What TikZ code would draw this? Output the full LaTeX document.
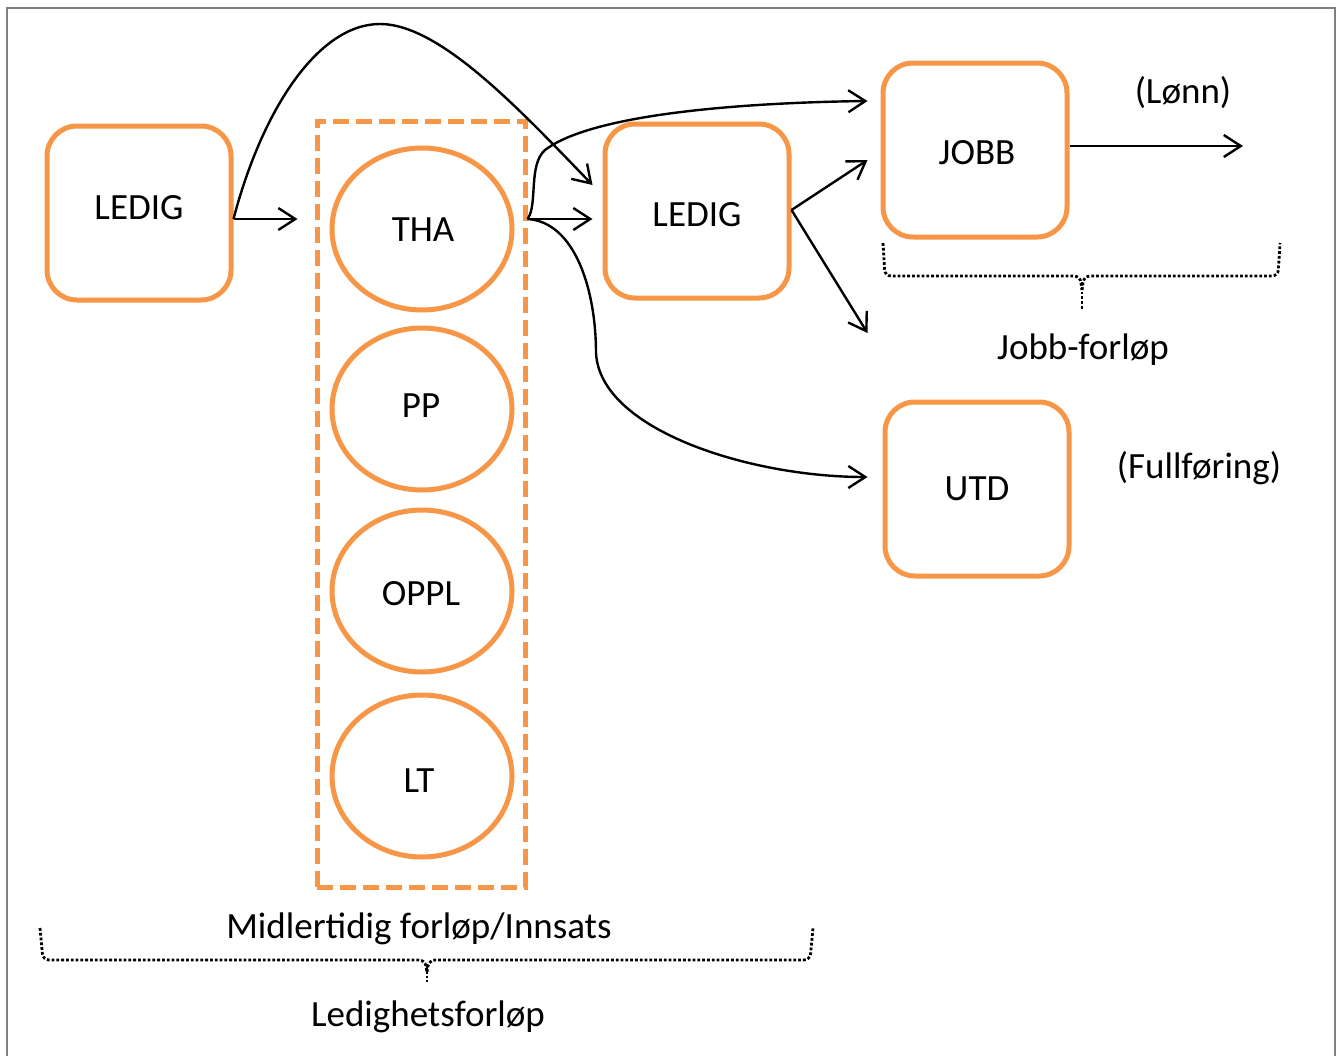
\documentclass[tikz,border=0pt]{standalone}
\usepackage{fontspec}
\setmainfont{Carlito}
\usetikzlibrary{arrows.meta,shapes.geometric,calc}
\definecolor{obox}{HTML}{F79646}
\begin{document}
\begin{tikzpicture}[x=1pt,y=-1pt,
  every node/.style={font=\fontsize{37}{44}\selectfont},
  rbox/.style={draw=obox,line width=5pt,rounded corners=30pt,minimum width=184pt,minimum height=174pt,inner sep=0pt},
  oval/.style={draw=obox,line width=5pt,ellipse,minimum width=180pt,minimum height=162pt,inner sep=0pt},
  grpbox/.style={draw=obox,line width=5pt,dash pattern=on 16pt off 7pt,minimum width=208pt,minimum height=766pt,inner sep=0pt},
  conn/.style={draw=black,line width=2.4pt,-{Straight Barb[length=17pt,width=22pt,line width=2.4pt]}},
  bracep/.style={draw=black,line width=2.8pt,dotted,rounded corners=6pt},
  lbl/.style={inner sep=0pt}]
\useasboundingbox (0,0) rectangle (1343,1055);
\begin{scope}
\clip (0,0) rectangle (1343,1055);
\draw[line width=2.5pt,draw=black!50] (7,8) rectangle (1335,1070);
\end{scope}

% nodes
\node[rbox] (ledig1) at (139,213) {};
\node[lbl] (ledig1t) at (139,208) {LEDIG};
\node[grpbox] (grp) at (421,504) {};
\node[oval] (tha) at (422,229) {};
\node[lbl] at (423,230) {THA};
\node[oval] (pp) at (422,409) {};
\node[lbl] at (421,406) {PP};
\node[oval] (oppl) at (422,591) {};
\node[lbl] at (421,594) {OPPL};
\node[oval] (lt) at (422,776) {};
\node[lbl] at (419,781) {LT};
\node[rbox] (ledig2) at (697,211) {};
\node[lbl] at (697,215) {LEDIG};
\node[rbox] (jobb) at (975,150) {};
\node[lbl] at (977,153) {JOBB};
\node[rbox] (utd) at (977,489) {};
\node[lbl] at (977,489) {UTD};

\node[lbl] (lonn) at (1183,93) {(Lønn)};
\node[lbl] (full) at (1199,468) {(Fullføring)};
\node[lbl] (jf) at (1083,350) {Jobb-forløp};
\node[lbl] (mf) at (419,929) {Midlertidig forløp/Innsats};
\node[lbl] (lf) at (428,1017) {Ledighetsforløp};

% coordinates
\coordinate (l1out) at ($(ledig1.east)+(0,6)$);
\coordinate (gin) at ($(grp.west |- l1out)+(-17,0)$);
\coordinate (thaout) at ($(grp.east |- tha.center)+(0,-10)$);
\coordinate (l2in) at ($(ledig2.west)+(-10,8)$);
\coordinate (l2top) at ($(ledig2.west)+(-10,-26)$);
\coordinate (l2out) at ($(ledig2.east)+(0,-1)$);
\coordinate (jobbin) at ($(jobb.west)+(-13,-49)$);
\coordinate (jobbin2) at ($(jobb.west)+(-13,10)$);
\coordinate (jobbdown) at ($(jobb.west)+(-13,183)$);
\coordinate (utdin) at ($(utd.west)+(-15,-12)$);
\coordinate (lonnend) at (1243,146);

% connectors
\draw[conn] (l1out) .. controls (262,110) and (318,24) .. (380,24)
   .. controls (440,24) and (520,110) .. (l2top);
\draw[conn] (l1out) -- (gin);
\draw[conn] (thaout) -- (l2in);
\draw[conn] (thaout) .. controls (538,205) and (528,165) .. (545,150)
   .. controls (600,108) and (790,102) .. (jobbin);
\draw[conn] (thaout) .. controls (575,222) and (596,290) .. (596,353)
   .. controls (600,430) and (750,477) .. (utdin);
\draw[conn] (l2out) -- (jobbin2);
\draw[conn] (l2out) -- (jobbdown);
\draw[conn] (jobb.east |- lonnend) -- (lonnend);

% braces
\draw[bracep] (883,243) -- (885,276) -- (1080,276) -- (1082,290);
\draw[bracep] (1082,282) -- (1082,310);
\draw[bracep] (1082,290) -- (1084,276) -- (1278,276) -- (1280,243);
\draw[bracep] (40,928) -- (43,960) -- (425,960) -- (427,972);
\draw[bracep] (427,966) -- (427,982);
\draw[bracep] (427,972) -- (429,960) -- (810,960) -- (813,928);
\end{tikzpicture}
\end{document}
